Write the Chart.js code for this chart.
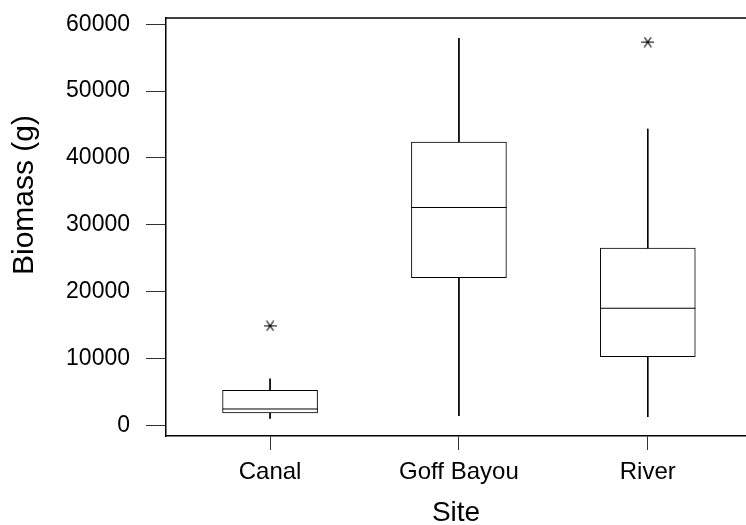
<!DOCTYPE html>
<html>
<head>
<meta charset="utf-8">
<script src="https://cdn.jsdelivr.net/npm/chart.js@4.4.1/dist/chart.umd.min.js"></script>
<style>
  html, body { margin: 0; padding: 0; background: #fff; }
  #wrap { width: 746px; height: 525px; }
</style>
</head>
<body>
<div id="wrap"><canvas id="biomass-chart" width="746" height="525"></canvas></div>
<script>
// data
const sites = ["Canal", "Goff Bayou", "River"];
const whiskerLow = [990, 1390, 1240];
const quartile1 = [1840, 22100, 10270];
const medians = [2440, 32580, 17510];
const quartile3 = [5240, 42370, 26500];
const whiskerHigh = [6980, 57930, 44360];
const outlierSite = [0, 2];
const outlierValue = [14870, 57330];
const yTicks = [0, 10000, 20000, 30000, 40000, 50000, 60000];

const FONT = "'Liberation Sans', Arial, Helvetica, sans-serif";
const HALF_BOX = 0.252;

// whiskers + medians as one broken line
const linePoints = [];
sites.forEach((s, i) => {
    const x = i + 1;
    linePoints.push({x: x, y: whiskerHigh[i]}, {x: x, y: quartile3[i]}, {x: x, y: null});
    linePoints.push({x: x, y: quartile1[i]}, {x: x, y: whiskerLow[i]}, {x: x, y: null});
    linePoints.push({x: x - HALF_BOX, y: medians[i]}, {x: x + HALF_BOX, y: medians[i]}, {x: x, y: null});
});

const boxPoints = sites.map((s, i) => ({x: i + 1, y: [quartile1[i], quartile3[i]]}));
const outlierPoints = outlierSite.map((s, i) => ({x: s + 1, y: outlierValue[i]}));

// asterisk marker
const star = document.createElement("canvas");
star.width = 13;
star.height = 11;
const sc = star.getContext("2d");
sc.strokeStyle = "#000";
sc.lineWidth = 1.2;
sc.beginPath();
sc.moveTo(0, 5.5); sc.lineTo(13, 5.5);
sc.moveTo(3, 0.5); sc.lineTo(10, 10.5);
sc.moveTo(10, 0.5); sc.lineTo(3, 10.5);
sc.stroke();

// top frame line + rotated y title
const framePlugin = {
    id: "frame",
    afterDraw(chart) {
        const ctx = chart.ctx;
        const a = chart.chartArea;
        ctx.save();
        ctx.strokeStyle = "#000";
        ctx.lineWidth = 1.5;
        ctx.beginPath();
        ctx.moveTo(a.left, a.top);
        ctx.lineTo(a.right, a.top);
        ctx.stroke();
        ctx.translate(25, 195);
        ctx.rotate(-Math.PI / 2);
        ctx.fillStyle = "#000";
        ctx.font = "30px " + FONT;
        ctx.textAlign = "center";
        ctx.textBaseline = "middle";
        ctx.fillText("Biomass (g)", 0, 0);
        ctx.restore();
    }
};

new Chart(document.getElementById("biomass-chart"), {
    data: {
        datasets: [{
            type: "scatter",
            data: outlierPoints,
            pointStyle: star,
            pointRadius: 6
        }, {
            type: "line",
            data: linePoints,
            borderColor: "#000",
            borderWidth: 1,
            pointRadius: 0,
            spanGaps: false,
            tension: 0
        }, {
            type: "bar",
            data: boxPoints,
            backgroundColor: "#fff",
            borderColor: "#000",
            borderWidth: 1,
            borderSkipped: false,
            barThickness: 95
        }]
    },
    options: {
        responsive: false,
        animation: false,
        layout: {autoPadding: false, padding: {top: 18, right: 0, left: 0, bottom: 0}},
        plugins: {legend: {display: false}, tooltip: {enabled: false}},
        scales: {
            x: {
                type: "linear",
                min: 0.449,
                max: 3.52,
                offset: false,
                afterBuildTicks: (scale) => { scale.ticks = sites.map((s, i) => ({value: i + 1})); },
                afterFit: (scale) => {
                    scale.height = 89;
                    scale.paddingLeft = 0;
                    scale.paddingRight = 0;
                },
                grid: {drawOnChartArea: false, offset: false, tickLength: 14, color: "#333", lineWidth: 1},
                border: {display: true, color: "#000", width: 1.5},
                ticks: {
                    padding: 8,
                    color: "#000",
                    font: {family: FONT, size: 24},
                    callback: (v) => sites[v - 1]
                },
                title: {
                    display: true,
                    text: "Site",
                    color: "#000",
                    font: {family: FONT, size: 28, lineHeight: 0.85},
                    padding: {top: 0, bottom: 0}
                }
            },
            y: {
                type: "linear",
                min: -1600,
                max: 60930,
                afterBuildTicks: (scale) => { scale.ticks = yTicks.map(v => ({value: v})); },
                afterFit: (scale) => {
                    scale.width = 166;
                    scale.paddingTop = 0;
                    scale.paddingBottom = 0;
                },
                grid: {drawOnChartArea: false, tickLength: 20, color: "#333", lineWidth: 1},
                border: {display: true, color: "#000", width: 1.5},
                ticks: {
                    padding: 16,
                    color: "#000",
                    font: {family: FONT, size: 23},
                    callback: (v) => String(v)
                }
            }
        }
    },
    plugins: [framePlugin]
});
</script>
</body>
</html>
